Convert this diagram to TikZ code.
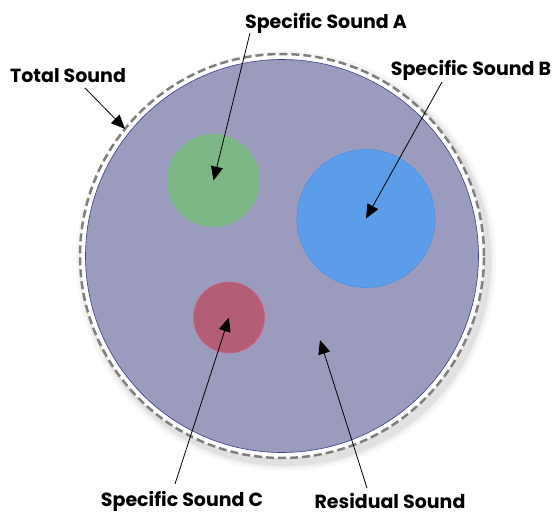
\documentclass[tikz,border=0pt]{standalone}
\usepackage{fontspec}
\setmainfont{Poppins}
\usetikzlibrary{arrows.meta}
\definecolor{purplefill}{HTML}{9B9BBE}
\definecolor{purpleline}{HTML}{3B3E8C}
\definecolor{greenfill}{HTML}{7DB785}
\definecolor{bluefill}{HTML}{5B9DE9}
\definecolor{blueline}{HTML}{4A92E4}
\definecolor{redfill}{HTML}{B35E76}
\definecolor{redline}{HTML}{D05E7A}
\definecolor{dashgray}{HTML}{7F7F7F}
\begin{document}
\begin{tikzpicture}[x=1pt,y=-1pt,
  disc/.style={circle,inner sep=0pt,outer sep=0pt},
  lbl/.style={anchor=base,inner sep=0pt,font=\fontsize{19}{22}\selectfont\bfseries},
  arr/.style={line width=0.8pt,-{Triangle[length=14pt,width=12pt]}}]
\useasboundingbox (0,0) rectangle (554,514);
% shadow
\foreach \r/\o in {210/0.03,207/0.04,205/0.05}
  \fill[black,opacity=\o] (286,261) circle (\r);
\node[disc,minimum size=404pt,fill=white,draw=dashgray,line width=2.5pt,dash pattern=on 8pt off 4pt] (dash) at (282,256) {};
\node[disc,minimum size=393pt,fill=purplefill,draw=purpleline,line width=0.6pt] (big) at (282,256) {};
\node[disc,minimum size=93pt,fill=greenfill] (green) at (213.5,180.5) {};
\node[disc,minimum size=138pt,fill=bluefill,draw=blueline,line width=0.6pt] (blue) at (366,218.5) {};
\node[disc,minimum size=71pt,fill=redfill,draw=redline,line width=0.6pt] (red) at (229,317.5) {};
% labels
\node[lbl] (lT) at (68,82) {Total Sound};
\node[lbl] (lA) at (326,28) {Specific Sound A};
\node[lbl] (lB) at (471,75) {Specific Sound B};
\node[lbl] (lC) at (182,506) {Specific Sound C};
\node[lbl] (lR) at (390,508) {Residual Sound};
% arrow ends
\coordinate (sT) at (85,88);
\coordinate (sA) at (250,33);
\coordinate (sB) at (442,82);
\coordinate (sC) at (175,484);
\coordinate (sR) at (367,488);
\coordinate (tR) at (320,340);
\draw[arr] (sT) -- (dash.141);
\draw[arr] (sA) -- (green.center);
\draw[arr] (sB) -- (blue.center);
\draw[arr] (sC) -- (red.center);
\draw[arr] (sR) -- (tR);
\end{tikzpicture}
\end{document}
